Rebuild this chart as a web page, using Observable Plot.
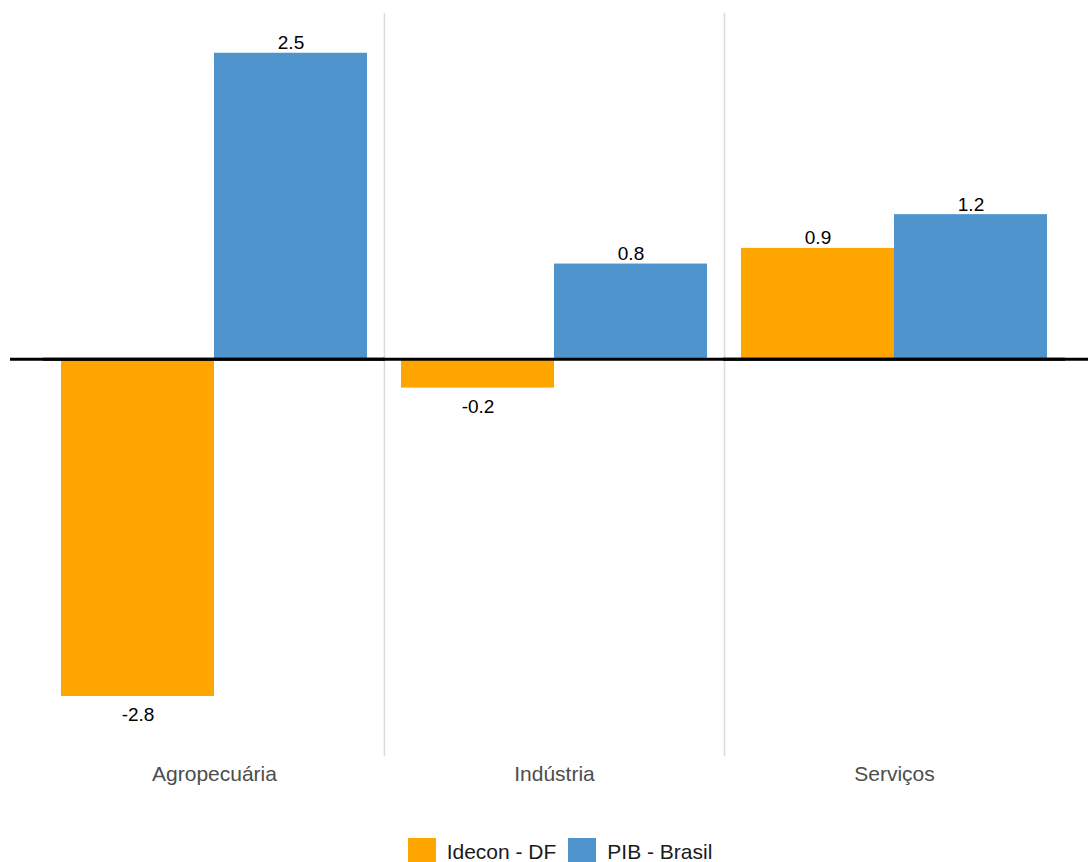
<!DOCTYPE html>
<html>
<head>
<meta charset="utf-8">
<script src="https://cdn.jsdelivr.net/npm/d3@7"></script>
<script src="https://cdn.jsdelivr.net/npm/@observablehq/plot@0.6"></script>
<style>
  html, body { margin: 0; padding: 0; background: #fff; overflow: hidden; }
  body { width: 1088px; height: 862px; position: relative; font-family: "Liberation Sans", Arial, sans-serif; }
  #title { position: absolute; top: -19px; right: 252px; font-size: 24px; font-weight: bold; line-height: 24px; white-space: nowrap; color: #000; }
  #chart { position: absolute; top: 0; left: 0; }
  #legend { position: absolute; top: 838px; left: 0; width: 1088px; display: flex; justify-content: center; align-items: center; padding-left: 32px; box-sizing: border-box; font-size: 21px; color: #1a1a1a; }
  .item { display: flex; align-items: center; margin: 0 6px; }
  .sw { width: 28px; height: 28px; margin-right: 11px; }
</style>
</head>
<body>
<div id="title">Taxa de variação (%)</div>
<div id="chart"></div>
<div id="legend"></div>
<script>
const categories = ["Agropecuária", "Indústria", "Serviços"];
const series = ["Idecon - DF", "PIB - Brasil"];
const idecon = [-2.8, -0.24, 0.92];
const pib = [2.54, 0.79, 1.2];
const colors = ["#FFA500", "#4F94CD"];

const data = [];
categories.forEach((c, i) => {
  data.push({cat: c, series: series[0], value: idecon[i]});
  data.push({cat: c, series: series[1], value: pib[i]});
});
const fmt = d3.formatLocale({decimal: ".", thousands: ",", grouping: [3], currency: ["", ""], minus: "-"}).format(".1f");

const chart = Plot.plot({
  width: 1088,
  height: 800,
  marginLeft: 44,
  marginRight: 24,
  marginTop: 13,
  marginBottom: 45,
  style: {fontFamily: "Liberation Sans, Arial, sans-serif", background: "#fff"},
  fx: {domain: categories, padding: 0, label: null},
  x: {domain: series, paddingInner: 0, paddingOuter: 0.111, axis: null},
  y: {domain: [-3.29, 2.87], axis: null},
  color: {domain: series, range: colors},
  marks: [
    Plot.frame({anchor: "left", stroke: "#dcdcdc", strokeWidth: 1.5, fx: () => "Indústria"}),
    Plot.frame({anchor: "left", stroke: "#dcdcdc", strokeWidth: 1.5, fx: () => "Serviços"}),
    Plot.axisFx({anchor: "bottom", tickSize: 0, tickPadding: 11, fontSize: 21, fill: "#4d4d4d", label: null}),
    Plot.barY(data, {fx: "cat", x: "series", y: "value", fill: "series"}),
    Plot.ruleY([0], {stroke: "#000", strokeWidth: 3, insetLeft: -1, insetRight: -1}),
    Plot.ruleY([0], {fx: () => "Agropecuária", stroke: "#000", strokeWidth: 3, insetLeft: -34}),
    Plot.ruleY([0], {fx: () => "Serviços", stroke: "#000", strokeWidth: 3, insetRight: -24}),
    Plot.text(data.filter(d => d.value >= 0), {fx: "cat", x: "series", y: "value", text: d => fmt(d.value), lineAnchor: "bottom", dy: -4, fontSize: 19, fill: "#000"}),
    Plot.text(data.filter(d => d.value < 0), {fx: "cat", x: "series", y: "value", text: d => fmt(d.value), lineAnchor: "top", dy: 11, fontSize: 19, fill: "#000"})
  ]
});
document.getElementById("chart").appendChild(chart);

const legend = document.getElementById("legend");
series.forEach((s, i) => {
  const item = document.createElement("div");
  item.className = "item";
  const sw = document.createElement("div");
  sw.className = "sw";
  sw.style.background = colors[i];
  const lab = document.createElement("span");
  lab.textContent = s;
  item.appendChild(sw);
  item.appendChild(lab);
  legend.appendChild(item);
});
</script>
</body>
</html>
